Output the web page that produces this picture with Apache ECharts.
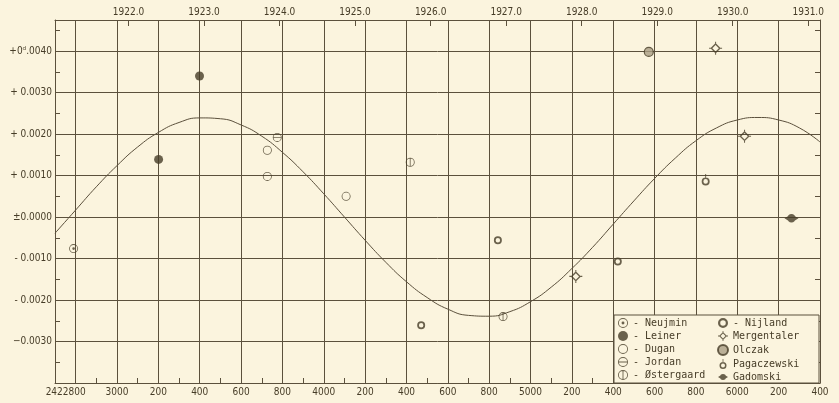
<!DOCTYPE html>
<html>
<head>
<meta charset="utf-8">
<script src="https://cdn.jsdelivr.net/npm/echarts@6/dist/echarts.min.js"></script>
<style>
  html, body { margin: 0; padding: 0; background: #fbf4de; }
</style>
</head>
<body>
<div id="main" style="width: 839px;height:403px;"></div>
<script>
// observers (legend order: left column, then right column)
const observers = ['Neujmin', 'Leiner', 'Dugan', 'Jordan', 'Østergaard', 'Nijland', 'Mergentaler', 'Olczak', 'Pagaczewski', 'Gadomski']
const legendLabels = ['- Neujmin', '- Leiner', '- Dugan', '- Jordan', '- Østergaard', '- Nijland', 'Mergentaler', 'Olczak', 'Pagaczewski', 'Gadomski']

// [Julian day, O-C in days]
const neujmin = [[2422790, -0.00076]]
const leiner = [[2423201, 0.00139], [2423399, 0.00340]]
const dugan = [[2423727, 0.00161], [2423727, 0.00098], [2424108, 0.00050]]
const jordan = [[2423775, 0.00192]]
const ostergaard = [[2424418, 0.00132], [2424867, -0.00240]]
const nijland = [[2424471, -0.00261], [2424842, -0.00056], [2425422, -0.00107]]
const mergentaler = [[2425219, -0.00143], [2425895, 0.00407], [2426035, 0.00195]]
const olczak = [[2425572, 0.00398]]
const pagaczewski = [[2425847, 0.00086]]
const gadomski = [[2426262, -0.00003]]

const curve = [
  [2422700, -0.00039], [2422800, 0.00017], [2422900, 0.00073], [2423000, 0.00124],
  [2423100, 0.00169], [2423200, 0.00204], [2423300, 0.00228], [2423400, 0.00239],
  [2423500, 0.00237], [2423600, 0.00222], [2423700, 0.00195], [2423800, 0.00156],
  [2423900, 0.00109], [2424000, 0.00056], [2424100, 0.00000], [2424200, -0.00056],
  [2424300, -0.00109], [2424400, -0.00156], [2424500, -0.00194], [2424600, -0.00222],
  [2424700, -0.00237], [2424800, -0.00239], [2424900, -0.00228], [2425000, -0.00204],
  [2425100, -0.00169], [2425200, -0.00124], [2425300, -0.00073], [2425400, -0.00017],
  [2425500, 0.00039], [2425600, 0.00093], [2425700, 0.00142], [2425800, 0.00184],
  [2425900, 0.00215], [2426000, 0.00234], [2426100, 0.00240], [2426200, 0.00234],
  [2426300, 0.00215], [2426400, 0.00181]
]

// tick labels
const xTickLabels = ['2422800', '3000', '200', '400', '600', '800', '4000', '200', '400', '600', '800', '5000', '200', '400', '600', '800', '6000', '200', '400']
const yTickLabels = ['', '−0.0030', '- 0.0020', '- 0.0010', '±0.0000', '+ 0.0010', '+ 0.0020', '+ 0.0030', '+0ᵈ.0040']
const yearTicks = [1922, 1923, 1924, 1925, 1926, 1927, 1928, 1929, 1930, 1931]

const jdMin = 2422700
const jdMax = 2426400
const jdYear1921 = 2422690.5

const ink = '#5b503c'
const dark = '#463c27'
const paper = '#fbf4de'
const font = 'DejaVu Sans Condensed, Liberation Sans Narrow, DejaVu Sans'

// symbol shapes (20x20 box); symbolSize is the longer side
const C = (r, cx, cy, cw) => `M${cx},${cy - r}A${r},${r} 0 1 ${cw} ${cx},${cy + r}A${r},${r} 0 1 ${cw} ${cx},${cy - r}Z`
const R = (x, y, w, h) => `M${x},${y}L${x + w},${y}L${x + w},${y + h}L${x},${y + h}Z`
const ring = C(9, 10, 10, 1) + C(7.4, 10, 10, 0)
const symbols = {
  Neujmin: { symbol: 'path://' + ring + C(2.6, 10, 10, 1), size: 9 },
  Leiner: { symbol: 'circle', size: 9 },
  Dugan: { symbol: 'path://' + ring, size: 9 },
  Jordan: { symbol: 'path://' + ring + R(1.5, 9.2, 17, 1.6), size: 9 },
  'Østergaard': { symbol: 'path://' + ring + R(9.2, 1.5, 1.6, 17), size: 9 },
  Nijland: { symbol: 'path://' + C(9, 10, 10, 1) + C(5, 10, 10, 0), size: 8 },
  Mergentaler: {
    symbol: 'path://M10,2L18,10L10,18L2,10Z M10,5L5,10L10,15L15,10Z' +
      R(9.2, 0, 1.6, 2.5) + R(9.2, 17.5, 1.6, 2.5) + R(0, 9.2, 2.5, 1.6) + R(17.5, 9.2, 2.5, 1.6),
    size: 13
  },
  Olczak: { symbol: 'circle', size: 9 },
  Pagaczewski: {
    symbol: 'path://' + C(7, 10, 13, 1) + C(4, 10, 13, 0) + R(9.2, 0, 1.6, 6.5),
    size: 11.4,
    offset: [0, -1.7]
  },
  Gadomski: {
    symbol: 'path://' + C(6, 10, 10, 1) + 'M0,10L5,7L5,13Z M20,10L15,13L15,7Z',
    size: 14
  }
}
const seriesData = [neujmin, leiner, dugan, jordan, ostergaard, nijland, mergentaler, olczak, pagaczewski, gadomski]

const scatterSeries = observers.map((name, i) => {
  const s = symbols[name]
  const itemStyle = name === 'Olczak'
    ? { color: '#aa9d83', borderColor: dark, borderWidth: 1.2 }
    : { color: dark }
  return {
    name: name,
    type: 'scatter',
    xAxisIndex: 0,
    symbol: s.symbol,
    symbolSize: s.size,
    symbolOffset: s.offset || [0, 0],
    symbolKeepAspect: true,
    itemStyle: itemStyle,
    z: 5,
    data: seriesData[i]
  }
})

const legendCommon = {
  orient: 'vertical',
  top: 315,
  itemWidth: 10,
  itemHeight: 10,
  itemGap: 3,
  selectedMode: false,
  formatter: name => legendLabels[observers.indexOf(name)],
  textStyle: {
    fontFamily: 'DejaVu Sans Mono',
    fontSize: 10,
    lineHeight: 10,
    color: dark,
    width: 80
  }
}

const option = {
  animation: false,
  backgroundColor: paper,
  grid: { left: 55, right: 19, top: 20, bottom: 20 },
  legend: [
    Object.assign({}, legendCommon, {
      left: 614,
      data: observers.slice(0, 5),
      padding: [3, 106, 3, 4],
      backgroundColor: paper,
      borderColor: ink,
      borderWidth: 1
    }),
    Object.assign({}, legendCommon, {
      left: 717,
      data: observers.slice(5),
      padding: [3, 2, 3, 0]
    })
  ],
  xAxis: [
    {
      type: 'value',
      position: 'bottom',
      min: jdMin,
      max: jdMax,
      interval: 100,
      axisLine: { show: true, onZero: false, lineStyle: { color: ink, width: 1 } },
      axisTick: { show: true, inside: true, length: 5, lineStyle: { color: ink } },
      axisLabel: {
        margin: 4,
        color: dark,
        fontFamily: font,
        fontSize: 10,
        rich: {
          first: { fontFamily: font, fontSize: 10, color: dark, padding: [0, 20, 0, 0] }
        },
        formatter: function (v) {
          const i = (v - 2422800) / 200
          if (!Number.isInteger(i) || !xTickLabels[i]) return ''
          return i === 0 ? '{first|' + xTickLabels[i] + '}' : xTickLabels[i]
        }
      },
      splitLine: { show: true, lineStyle: { color: ['rgba(0,0,0,0)', ink], width: 1 } }
    },
    {
      type: 'value',
      position: 'top',
      min: 1921 + (jdMin - jdYear1921) / 365.25,
      max: 1921 + (jdMax - jdYear1921) / 365.25,
      axisLine: { show: true, onZero: false, lineStyle: { color: ink, width: 1 } },
      axisTick: { show: true, inside: true, length: 6, customValues: yearTicks, lineStyle: { color: ink } },
      axisLabel: {
        margin: 3,
        color: dark,
        fontFamily: font,
        fontSize: 10,
        customValues: yearTicks,
        formatter: v => v.toFixed(1)
      },
      splitLine: { show: false }
    }
  ],
  yAxis: [
    {
      type: 'value',
      min: -0.004,
      max: 0.00475,
      interval: 0.0005,
      axisLine: { show: true, onZero: false, lineStyle: { color: ink, width: 1 } },
      axisTick: { show: true, inside: true, length: 5, lineStyle: { color: ink } },
      axisLabel: {
        margin: 3,
        color: dark,
        fontFamily: font,
        fontSize: 10,
        showMaxLabel: false,
        formatter: function (v) {
          const i = Math.round((v + 0.004) / 0.001)
          return Math.abs(v + 0.004 - i * 0.001) < 1e-9 && yTickLabels[i] ? yTickLabels[i] : ''
        }
      },
      splitLine: { show: true, lineStyle: { color: [ink, 'rgba(0,0,0,0)'], width: 1 } }
    },
    {
      type: 'value',
      position: 'right',
      min: -0.004,
      max: 0.00475,
      interval: 0.0005,
      axisLine: { show: true, onZero: false, lineStyle: { color: ink, width: 1 } },
      axisTick: { show: true, inside: true, length: 5, lineStyle: { color: ink } },
      axisLabel: { show: false },
      splitLine: { show: false }
    }
  ],
  series: [
    {
      name: 'curve',
      type: 'line',
      xAxisIndex: 0,
      smooth: true,
      showSymbol: false,
      lineStyle: { color: ink, width: 1 },
      z: 3,
      data: curve
    }
  ].concat(scatterSeries)
}

const myChart = echarts.init(document.getElementById('main'))
myChart.setOption(option)
</script>
</body>
</html>
